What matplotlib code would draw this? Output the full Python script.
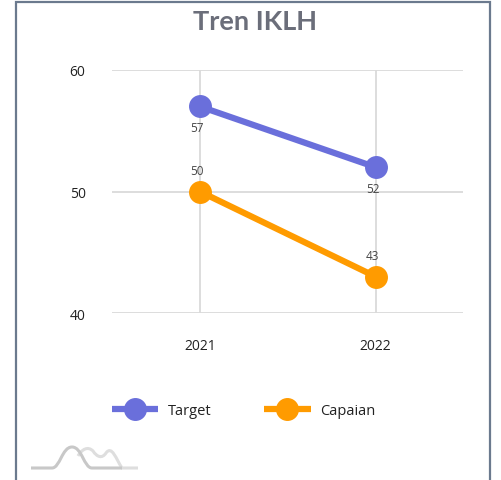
import matplotlib.pyplot as plt
from matplotlib.lines import Line2D
from matplotlib.patches import Rectangle, PathPatch
from matplotlib.path import Path

years = ['2021', '2022']
target = [57, 52]
capaian = [50, 43]
y_ticks = [40, 50, 60]

blue = '#6A6FDB'
orange = '#FF9B00'
txt = '#222222'
font = ['Open Sans', 'DejaVu Sans']

fig = plt.figure(figsize=(5.02, 4.81), dpi=100)
ax = fig.add_axes([0.2231, 0.347, 0.7002, 0.5054])

x = range(len(years))
ax.plot(x, target, color=blue, lw=4.5, marker='o', ms=15.5, zorder=3, solid_capstyle='butt')
ax.plot(x, capaian, color=orange, lw=4.5, marker='o', ms=15.5, zorder=3, solid_capstyle='butt')

# data labels: target below, capaian above
for i, v in enumerate(target):
    ax.annotate(str(v), (i, v), xytext=(-2, -15.5), textcoords='offset points',
                ha='center', va='center', fontsize=8.5, color='#444444', family=font)
for i, v in enumerate(capaian):
    ax.annotate(str(v), (i, v), xytext=(-2, 15), textcoords='offset points',
                ha='center', va='center', fontsize=8.5, color='#444444', family=font)

ax.set_xlim(-0.5, 1.5)
ax.set_ylim(40, 60)
ax.set_xticks(list(x))
ax.set_xticklabels(years)
ax.set_yticks(y_ticks)
ax.grid(True, color='#DADADA', lw=1.3)
ax.set_axisbelow(True)
for s in ax.spines.values():
    s.set_visible(False)
ax.tick_params(length=0, labelsize=10, labelcolor=txt, pad=0)
ax.tick_params(axis='y', pad=19)
ax.tick_params(axis='x', pad=18)
for lab in ax.get_xticklabels() + ax.get_yticklabels():
    lab.set_family(font)

fig.text(0.508, 0.955, 'Tren IKLH', ha='center', va='center', fontsize=19.5,
         fontweight='bold', color='#6B6E7A', family=['Lato', 'DejaVu Sans'])

handles = [
    Line2D([], [], color=blue, lw=4.5, marker='o', ms=15.5, solid_capstyle='butt'),
    Line2D([], [], color=orange, lw=4.5, marker='o', ms=15.5, solid_capstyle='butt'),
]
fig.legend(handles, ['Target', 'Capaian'], loc='center', bbox_to_anchor=(0.485, 0.145),
           ncol=2, frameon=False, handlelength=3.2, handletextpad=0.65,
           columnspacing=3.6, prop={'family': font, 'size': 10.5}, labelcolor=txt)

# outer frame
fig.patches.append(Rectangle((16.5 / 502, -0.05), (490 - 16.5) / 502, 1 - 2.5 / 481 + 0.05,
                             transform=fig.transFigure, fill=False,
                             edgecolor='#6B7A8E', lw=1.6))

# small watermark logo bottom-left
def px(xp, yp):
    return (xp / 502, 1 - yp / 481)

logo1 = Path([px(31, 469), px(52, 469),
              px(60, 469), px(62, 448), px(72, 448),
              px(82, 448), px(84, 469), px(92, 469),
              px(122, 469)],
             [Path.MOVETO, Path.LINETO,
              Path.CURVE4, Path.CURVE4, Path.CURVE4,
              Path.CURVE4, Path.CURVE4, Path.CURVE4,
              Path.LINETO])
logo2 = Path([px(78, 457),
              px(82, 450), px(88, 447), px(93, 452),
              px(97, 458), px(102, 460), px(106, 454),
              px(112, 446), px(116, 460), px(122, 469),
              px(138, 469)],
             [Path.MOVETO,
              Path.CURVE4, Path.CURVE4, Path.CURVE4,
              Path.CURVE4, Path.CURVE4, Path.CURVE4,
              Path.CURVE4, Path.CURVE4, Path.CURVE4,
              Path.LINETO])
fig.patches.append(PathPatch(logo2, transform=fig.transFigure, fill=False,
                             edgecolor='#DEDEDE', lw=2.2))
fig.patches.append(PathPatch(logo1, transform=fig.transFigure, fill=False,
                             edgecolor='#C8C8C8', lw=2.2))

fig.savefig('out.png', dpi=100)
